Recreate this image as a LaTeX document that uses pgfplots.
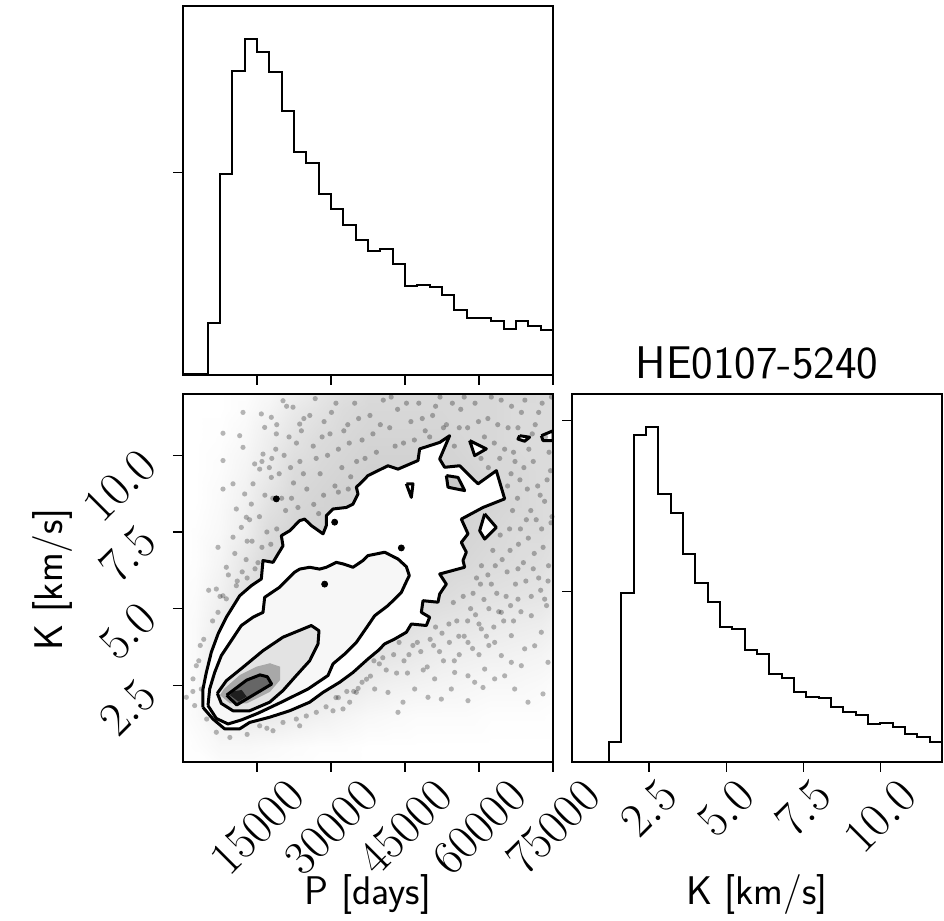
\RequirePackage{fix-cm}
\documentclass[border=0pt]{standalone}
\usepackage{fontspec}
\usepackage{graphicx}
\usepackage{pgfplots}
\pgfplotsset{compat=1.18}
\usepackage{pgfplotstable}

\pgfplotstableread{
x y
4054 1.78
4054 2.38
4730 2.92
5743 3.58
7095 4.17
8784 4.72
11487 5.42
13852 5.75
15879 5.97
16217 6.57
18244 6.51
20271 7.05
19933 7.38
21622 7.54
23650 7.87
24663 7.92
26014 7.71
28380 7.44
29055 7.71
29055 8.03
30407 8.25
33109 8.30
34461 8.41
35474 8.74
35136 8.96
36488 9.17
37501 9.34
41555 9.66
43582 9.55
47637 9.83
47975 10.21
52029 10.42
54056 10.64
52029 9.88
53043 9.61
56083 9.66
59800 9.07
63516 9.50
65206 8.58
60813 8.30
56421 7.92
57772 7.44
56421 7.16
57434 6.84
56759 6.57
57097 6.35
52029 6.13
53381 5.80
52029 5.48
51692 5.21
48651 5.26
48313 4.88
50002 4.72
49327 4.45
46286 4.50
45272 4.23
42907 4.01
40880 3.85
39529 3.63
37501 3.36
34461 2.92
31758 2.60
28380 2.27
25677 1.95
21622 1.67
17568 1.46
13514 1.29
11487 1.08
8446 1.08
6081 1.40
4054 1.78
}\Lfour

\pgfplotstableread{
x y
5068 1.84
5405 2.38
6419 2.92
7770 3.47
9798 3.96
11825 4.45
14190 4.72
16217 4.88
16555 5.37
19595 5.70
22636 6.19
23650 6.29
25677 6.35
27704 6.29
29055 6.35
31082 6.51
32434 6.46
34461 6.35
36488 6.57
37501 6.73
40880 6.84
43582 6.62
45272 6.37
45880 6.08
45272 5.88
44258 5.53
41555 5.10
38853 4.77
37501 4.45
35136 3.90
32771 3.52
30407 3.20
29393 2.82
25339 2.38
19933 1.95
15203 1.59
11825 1.37
9122 1.24
6757 1.42
5068 1.84
}\Lthree

\pgfplotstableread{
x y
6960 2.24
8784 2.65
12163 3.09
16217 3.63
20271 4.07
26014 4.45
27569 4.28
27366 3.85
25677 3.30
22974 2.82
20271 2.33
17568 1.95
13514 1.67
10136 1.67
7770 1.91
6960 2.24
}\Ltwo

\pgfplotstableread{
x y
8852 2.18
10879 1.86
17974 2.54
17095 2.78
15609 2.84
12906 2.67
8852 2.18
}\Lone

\pgfplotstableread{
x y
7500 2.18
9527 1.91
12906 1.91
17636 2.29
19663 2.67
19663 3.11
17636 3.22
14933 3.11
11554 2.84
8300 2.38
7500 2.18
}\Lmid

\pgfplotstableread{
x y
9527 2.18
11217 1.97
12906 2.13
11892 2.35
10203 2.30
9527 2.18
}\Lcore

\pgfplotsset{
  cornerax/.style={
    scale only axis, width=185pt,
    tick align=outside, tick pos=left,
    major tick length=5pt,
    axis line style={line width=0.7pt},
    every tick/.append style={line width=0.6pt, black},
    scaled ticks=false,
    tick label style={font=\fontsize{24}{28}\selectfont},
    label style={font=\sffamily\fontsize{20}{24}\selectfont},
  },
  colormap={cloudmap}{color(0)=(white) color(1)=(black!70)},
}

\begin{document}
\begin{tikzpicture}
\useasboundingbox (0,0) rectangle (472pt,460.5pt);

% ---------- top histogram: P ----------
\begin{axis}[cornerax, at={(91.5pt,273pt)}, anchor=south west, height=184.5pt,
  xmin=0, xmax=75000, ymin=0, ymax=1107,
  xtick={15000,30000,45000,60000,75000}, xticklabels={},
  ytick={607}, yticklabels={}]
\addplot[const plot, black, line width=1pt] coordinates {
(0,2) (2500,2) (5000,155) (7500,602) (10000,912) (12500,1007) (15000,970)
(17500,910) (20000,792) (22500,670) (25000,635) (27500,543) (30000,497)
(32500,450) (35000,405) (37500,373) (40000,377) (42500,333) (45000,267)
(47500,270) (50000,265) (52500,240) (55000,195) (57500,172) (60000,170)
(62500,163) (65000,137) (67500,163) (70000,147) (72500,135) (75000,135)};
\end{axis}

% ---------- 2D panel ----------
\begin{axis}[cornerax, at={(91.5pt,79.5pt)}, anchor=south west, height=184pt,
  xmin=0, xmax=75000, ymin=0, ymax=12, axis on top,
  point meta min=0, point meta max=1,
  xtick={15000,30000,45000,60000,75000},
  ytick={2.5,5,7.5,10},
  xticklabel={\rotatebox{45}{$\pgfmathprintnumber[fixed,1000 sep={}]{\tick}$}},
  yticklabel={\rotatebox{45}{$\pgfmathprintnumber[fixed,fixed zerofill,precision=1]{\tick}$}},
  x tick label style={anchor=north, inner sep=0pt, yshift=-2.5pt},
  y tick label style={anchor=north east, inner sep=0pt, xshift=-7pt, yshift=4.5pt},
  xlabel={P [days]}, ylabel={K [km/s]},
  xlabel style={at={(axis description cs:0.5,-0.361)}, anchor=center},
  ylabel style={at={(axis description cs:-0.354,0.495)}, anchor=center},
]
% smoothed density of the sample cloud
\addplot[matrix plot*, shader=interp, mesh/cols=16, point meta=explicit, colormap name=cloudmap] coordinates {
(0,0)[0] (5000,0)[0] (10000,0)[0] (15000,0)[0] (20000,0)[0] (25000,0)[0] (30000,0)[0] (35000,0)[0] (40000,0)[0] (45000,0)[0] (50000,0)[0] (55000,0)[0] (60000,0)[0] (65000,0)[0] (70000,0)[0] (75000,0)[0]
(0,1)[0] (5000,1)[0.01] (10000,1)[0.04] (15000,1)[0.04] (20000,1)[0.03] (25000,1)[0.02] (30000,1)[0.01] (35000,1)[0.01] (40000,1)[0] (45000,1)[0] (50000,1)[0] (55000,1)[0] (60000,1)[0] (65000,1)[0] (70000,1)[0] (75000,1)[0]
(0,2)[0] (5000,2)[0.03] (10000,2)[0.1] (15000,2)[0.12] (20000,2)[0.12] (25000,2)[0.1] (30000,2)[0.08] (35000,2)[0.06] (40000,2)[0.04] (45000,2)[0.03] (50000,2)[0.02] (55000,2)[0.02] (60000,2)[0.02] (65000,2)[0.01] (70000,2)[0.01] (75000,2)[0.01]
(0,3)[0] (5000,3)[0.03] (10000,3)[0.12] (15000,3)[0.14] (20000,3)[0.16] (25000,3)[0.16] (30000,3)[0.15] (35000,3)[0.13] (40000,3)[0.1] (45000,3)[0.08] (50000,3)[0.07] (55000,3)[0.06] (60000,3)[0.05] (65000,3)[0.04] (70000,3)[0.04] (75000,3)[0.03]
(0,4)[0] (5000,4)[0.03] (10000,4)[0.12] (15000,4)[0.16] (20000,4)[0.18] (25000,4)[0.2] (30000,4)[0.2] (35000,4)[0.18] (40000,4)[0.16] (45000,4)[0.14] (50000,4)[0.12] (55000,4)[0.1] (60000,4)[0.09] (65000,4)[0.08] (70000,4)[0.07] (75000,4)[0.06]
(0,5)[0] (5000,5)[0.03] (10000,5)[0.1] (15000,5)[0.18] (20000,5)[0.2] (25000,5)[0.22] (30000,5)[0.23] (35000,5)[0.22] (40000,5)[0.2] (45000,5)[0.19] (50000,5)[0.17] (55000,5)[0.15] (60000,5)[0.14] (65000,5)[0.12] (70000,5)[0.11] (75000,5)[0.1]
(0,6)[0] (5000,6)[0.02] (10000,6)[0.08] (15000,6)[0.16] (20000,6)[0.22] (25000,6)[0.24] (30000,6)[0.25] (35000,6)[0.25] (40000,6)[0.24] (45000,6)[0.23] (50000,6)[0.22] (55000,6)[0.2] (60000,6)[0.18] (65000,6)[0.17] (70000,6)[0.16] (75000,6)[0.15]
(0,7)[0] (5000,7)[0.01] (10000,7)[0.06] (15000,7)[0.14] (20000,7)[0.22] (25000,7)[0.25] (30000,7)[0.26] (35000,7)[0.26] (40000,7)[0.25] (45000,7)[0.25] (50000,7)[0.24] (55000,7)[0.23] (60000,7)[0.22] (65000,7)[0.2] (70000,7)[0.19] (75000,7)[0.18]
(0,8)[0] (5000,8)[0.01] (10000,8)[0.04] (15000,8)[0.1] (20000,8)[0.2] (25000,8)[0.24] (30000,8)[0.26] (35000,8)[0.26] (40000,8)[0.26] (45000,8)[0.26] (50000,8)[0.25] (55000,8)[0.24] (60000,8)[0.24] (65000,8)[0.22] (70000,8)[0.2] (75000,8)[0.2]
(0,9)[0] (5000,9)[0] (10000,9)[0.03] (15000,9)[0.08] (20000,9)[0.16] (25000,9)[0.22] (30000,9)[0.24] (35000,9)[0.26] (40000,9)[0.26] (45000,9)[0.26] (50000,9)[0.26] (55000,9)[0.26] (60000,9)[0.25] (65000,9)[0.24] (70000,9)[0.22] (75000,9)[0.2]
(0,10)[0] (5000,10)[0] (10000,10)[0.02] (15000,10)[0.06] (20000,10)[0.12] (25000,10)[0.2] (30000,10)[0.22] (35000,10)[0.24] (40000,10)[0.26] (45000,10)[0.26] (50000,10)[0.26] (55000,10)[0.25] (60000,10)[0.24] (65000,10)[0.22] (70000,10)[0.22] (75000,10)[0.2]
(0,11)[0] (5000,11)[0] (10000,11)[0.01] (15000,11)[0.04] (20000,11)[0.1] (25000,11)[0.16] (30000,11)[0.2] (35000,11)[0.22] (40000,11)[0.24] (45000,11)[0.24] (50000,11)[0.24] (55000,11)[0.24] (60000,11)[0.22] (65000,11)[0.22] (70000,11)[0.2] (75000,11)[0.2]
(0,12)[0] (5000,12)[0] (10000,12)[0] (15000,12)[0.02] (20000,12)[0.06] (25000,12)[0.12] (30000,12)[0.16] (35000,12)[0.2] (40000,12)[0.22] (45000,12)[0.22] (50000,12)[0.22] (55000,12)[0.22] (60000,12)[0.22] (65000,12)[0.22] (70000,12)[0.2] (75000,12)[0.2]
};
% individual samples outside the contours
\addplot[only marks, mark=*, mark size=1.3pt, mark options={draw opacity=0, fill=black, fill opacity=0.28}] coordinates {
(8108,10.72) (11487,10.64) (12163,10.26) (8108,9.83) (10136,9.07) (8108,8.90) (12163,11.40) (15879,11.35) (17906,11.24) (16555,10.91) (14528,9.72) (16217,10.04) (17906,9.28) (12500,8.74) (10811,8.25) (13852,8.41) (7095,7.00) (8784,6.35) (10136,7.33) (11825,7.65) (15541,9.55) (14190,9.07) (20271,11.78) (22298,11.57) (23650,11.02) (18920,10.70) (12838,7.98)
(2027,2.71) (676,2.11) (2365,1.84) (6757,0.97) (3716,2.38) (7095,4.88) (8784,5.32) (6757,5.64) (10811,5.75) (8108,5.42) (2703,3.14) (15541,1.18) (20271,1.29) (22974,1.40) (27028,1.62) (30407,1.67) (33785,1.95) (23650,1.18) (18244,1.02) (35136,2.27) (32434,1.73)
(43581,1.62) (44595,1.95) (49663,2.11) (52365,2.05) (57771,2.00) (60812,2.43) (63177,2.71) (65204,2.81) (67231,2.38) (69934,1.95) (72974,2.22) (68583,3.14) (71285,3.79) (72636,4.23) (73988,3.25) (66555,3.25) (64528,3.47) (61150,3.03) (57771,2.81) (54393,2.38) (46960,2.38) (41554,2.27) (38851,2.38) (51014,2.71) (55068,2.92) (59122,2.60) (69258,3.69) (63177,3.90) (66555,4.12) (70609,4.77) (73312,5.31) (67907,5.31) (64528,4.88) (60474,4.34) (57771,3.90)
(21000,11.6) (24500,11.2) (26800,11.85) (28200,10.6) (30100,11.4) (31500,10.2) (33400,11.0) (34800,11.7) (36300,10.5) (37900,11.3) (39200,10.1) (40600,11.8) (41900,10.9) (43500,11.5) (44700,10.4) (46200,11.1) (47800,11.7) (49100,10.8) (50600,11.3) (52100,11.9) (53400,11.0) (55000,10.3) (56300,11.5) (57700,10.9) (59200,11.7) (60400,9.9) (61800,11.2) (63100,10.4) (64500,11.8) (65900,10.9) (67300,9.8) (68600,11.4) (70100,10.2) (71400,11.0) (72800,11.7) (74200,10.1)
(66500,9.4) (67800,8.6) (69100,9.6) (70500,8.2) (71900,9.0) (73300,8.5) (74500,9.5) (66200,7.6) (68000,7.1) (69600,7.9) (71200,6.8) (72700,7.6) (74100,6.4) (62800,6.9) (64300,7.4) (65700,6.2) (67400,5.8) (69000,6.5) (70600,5.4) (72100,6.0) (73700,5.1) (59500,6.0) (61000,5.3) (62500,5.8) (64000,4.9) (65500,5.4) (67000,4.6) (68500,4.9) (58300,5.0) (60000,4.5) (61500,4.1) (63000,4.4) (55500,4.6) (57000,4.1) (54000,3.9) (56000,3.5) (58700,3.7) (52500,4.2) (50800,3.8) (48200,3.6) (46600,3.8) (44800,3.3) (42700,3.5) (41200,3.0) (39800,3.2) (38000,2.8) (36300,2.6) (34600,2.3) (45500,2.9) (49500,3.1) (52800,3.3)
(14000,7.2) (15500,8.0) (17000,7.5) (18200,8.6) (19500,9.4) (20800,8.2) (22400,9.1) (23700,9.8) (25100,8.9) (26400,10.3) (27800,9.4) (29300,10.0) (30800,9.0) (32200,9.6) (33700,10.4) (35200,9.8) (12800,6.6) (14600,6.3) (16000,9.8) (18800,10.2) (21500,10.6) (24000,10.8) (13500,7.9) (16600,8.7) (19000,7.6)
(6000,4.6) (7500,5.4) (4200,4.0) (9200,6.1) (3200,3.3) (5200,5.6) (10500,6.8)
(38500,10.7) (40000,11.0) (42200,11.9) (43000,10.3) (45300,11.7) (46900,10.5) (48500,11.2) (50000,10.6) (51200,11.6) (52800,10.9) (54600,11.7) (56000,10.9) (57000,11.9) (58400,10.4) (59900,11.1) (61100,10.6) (62500,11.9) (63800,11.0) (65200,10.2) (66600,11.6) (67900,10.9) (69300,11.8) (70800,10.7) (72100,11.4) (73500,10.6) (74700,11.9)
(61900,9.6) (64200,9.9) (65800,9.0) (67000,10.1) (68300,9.2) (69800,8.9) (71000,9.8) (72400,8.7) (73800,9.2) (74800,8.0) (66800,8.2) (68400,7.6) (70000,7.3) (71600,7.9) (73000,7.0) (74600,7.8) (64700,6.6) (66300,6.9) (67900,6.3) (69500,5.9) (71000,6.3) (72500,5.6) (74000,5.9) (60500,6.4) (61800,6.1) (63300,6.4) (58800,5.5) (60300,5.8) (62000,5.0) (63600,5.5) (65000,4.6) (66400,5.1) (56800,5.4) (57700,4.6) (59300,4.8) (54800,5.2) (53900,4.5) (55900,4.1) (51200,4.4) (50100,4.0) (47500,3.9) (45800,3.5) (43800,3.9) (43300,2.9) (40500,3.4) (38700,3.3) (37200,2.7) (35500,2.4) (33200,2.3) (31500,2.1) (48700,3.0) (52000,3.6) (55000,3.3) (60000,3.5) (62000,3.8)
(19000,11.0) (20500,10.0) (21800,9.6) (23000,10.4) (24400,9.4) (25700,11.3) (27000,9.9) (28600,11.1) (29800,10.7) (31000,11.7) (32600,10.8) (34000,9.3) (35600,11.2) (36900,9.9) (22000,8.6) (23300,8.3) (26500,8.4) (27500,8.1) (28500,8.7) (31500,8.8) (33500,8.9) (17800,7.1) (16000,7.0) (15200,6.5) (13000,7.2) (12000,6.2) (11000,5.9) (17500,9.6) (20000,8.6) (18000,9.9) (13000,6.0)
(3500,3.8) (2000,2.3) (4800,1.4) (9500,0.8) (13000,0.9) (17000,1.1) (25000,1.5) (29000,1.8) (31000,2.1)
};
% density inside the contours
\addplot[fill=white, draw=none] table {\Lfour};
\addplot[fill=black!3, draw=none] table {\Lthree};
\addplot[fill=black!11, draw=none] table {\Ltwo};
\addplot[fill=black!34, draw=none] table {\Lmid};
\addplot[fill=black!60, draw=none] table {\Lone};
\addplot[fill=black!88, draw=none] table {\Lcore};
% contour lines
\addplot[black, line width=1.5pt, line join=round] table {\Lfour};
\addplot[black, line width=1.5pt, line join=round] table {\Lthree};
\addplot[black, line width=1.5pt, line join=round] table {\Ltwo};
\addplot[black, line width=1.5pt, line join=round] table {\Lone};
% small closed contours
\addplot[black, line width=1.5pt, line join=round, fill=black!22] coordinates {(53381,9.34) (55746,9.28) (57097,8.85) (53719,8.96) (53381,9.34)};
\addplot[black, line width=1.5pt, line join=round, fill=white] coordinates {(58110,10.48) (61488,10.21) (59124,9.99) (58110,10.48)};
\addplot[black, line width=1.5pt, line join=round, fill=white] coordinates {(61150,8.09) (63516,7.65) (61150,7.27) (60137,7.54) (61150,8.09)};
\addplot[black, line width=1.5pt, line join=round, fill=white] coordinates {(68246,10.64) (70273,10.59) (69260,10.46) (67908,10.53) (68246,10.64)};
\addplot[black, line width=1.5pt, line join=round, fill=white] coordinates {(72638,10.64) (75003,10.80) (75003,10.48) (72976,10.48) (72638,10.64)};
\addplot[black, line width=1.5pt, line join=round] coordinates {(45272,9.07) (46624,9.07) (46286,8.63) (45272,9.07)};
\addplot[only marks, mark=*, mark size=1.5pt, black] coordinates {(18920,8.58) (30745,7.82) (44258,6.98) (28718,5.80)};
\end{axis}

% ---------- right histogram: K ----------
\begin{axis}[cornerax, at={(286pt,79.5pt)}, anchor=south west, height=184pt,
  xmin=0, xmax=12, ymin=0, ymax=1104,
  xtick={2.5,5,7.5,10}, ytick={511,1025}, yticklabels={},
  xticklabel={\rotatebox{45}{$\pgfmathprintnumber[fixed,fixed zerofill,precision=1]{\tick}$}},
  x tick label style={anchor=north, inner sep=0pt, yshift=-2.5pt},
  xlabel={K [km/s]},
  xlabel style={at={(axis description cs:0.5,-0.361)}, anchor=center},
  title={HE0107-5240},
  every axis title/.style={font=\sffamily\fontsize{22.9}{27}\selectfont, at={(axis description cs:0.5,1.084)}, anchor=center, inner sep=0pt},
]
\addplot[const plot, black, line width=1pt] coordinates {
(0,0) (0.4,0) (0.8,0) (1.2,59) (1.6,506) (2.0,981) (2.4,1004) (2.8,803)
(3.2,746) (3.6,623) (4.0,536) (4.4,481) (4.8,406) (5.2,399) (5.6,336)
(6.0,324) (6.4,263) (6.8,253) (7.2,211) (7.6,196) (8.0,191) (8.4,166)
(8.8,151) (9.2,141) (9.6,113) (10.0,116) (10.4,106) (10.8,83) (11.2,76)
(11.6,61) (12.0,61)};
\end{axis}
\end{tikzpicture}
\end{document}
